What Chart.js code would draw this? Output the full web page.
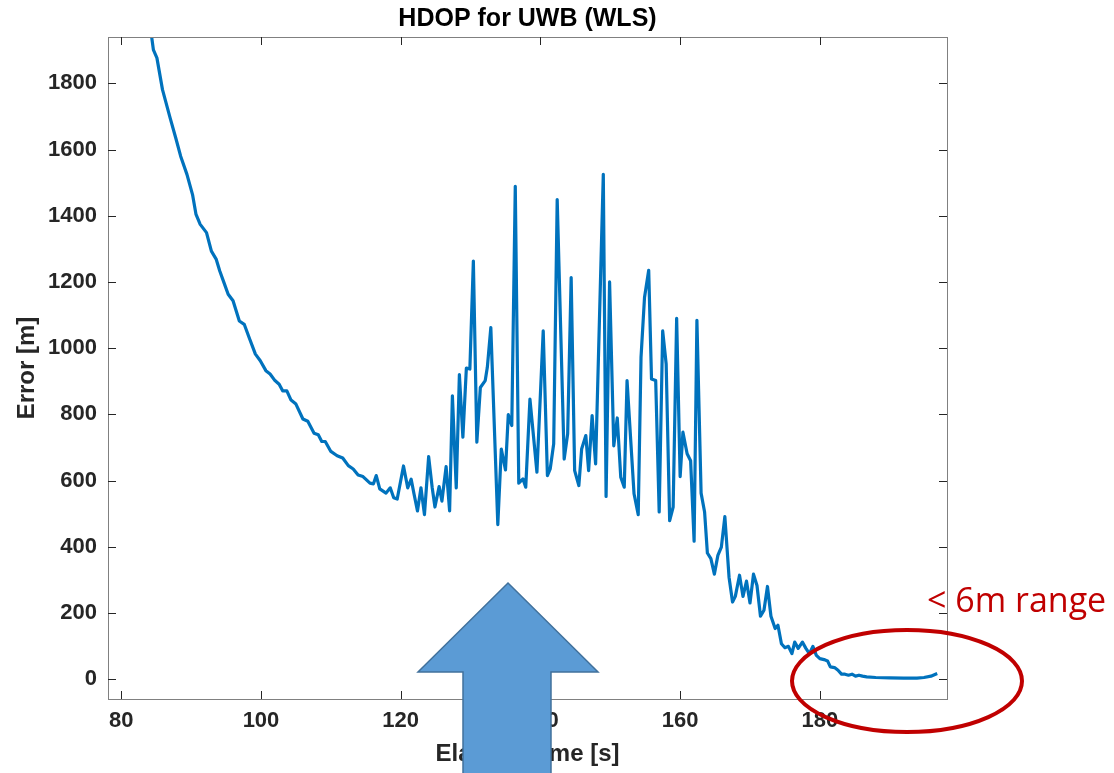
<!DOCTYPE html>
<html>
<head>
<meta charset="utf-8">
<title>HDOP for UWB (WLS)</title>
<script src="https://cdn.jsdelivr.net/npm/chart.js@4/dist/chart.umd.min.js"></script>
<style>
  html, body { margin: 0; padding: 0; background: #fff; }
  #wrap { width: 1114px; height: 773px; }
</style>
</head>
<body>
<div id="wrap"><canvas id="hdopChart" width="1114" height="773"></canvas></div>
<script>
// Valeurs (temps écoulé [s] / erreur [m])
const timeS = [
  83.9, 84.6, 85.1, 85.9, 87.0, 87.8, 88.5, 89.4, 90.2, 90.7,
  91.3, 92.2, 92.9, 93.6, 94.1, 94.7, 95.3, 96.0, 96.9, 97.6,
  98.3, 99.2, 99.9, 100.7, 101.3, 102.0, 102.6, 103.1, 103.7, 104.3,
  105.0, 106.0, 106.7, 107.6, 108.2, 108.7, 109.2, 110.0, 110.9, 111.7,
  112.5, 113.2, 113.9, 114.6, 115.6, 116.1, 116.5, 117.0, 117.9, 118.5,
  119.0, 119.5, 120.4, 121.0, 121.5, 121.9, 122.4, 122.9, 123.4, 124.0,
  124.5, 124.9, 125.5, 125.9, 126.5, 127.0, 127.4, 127.95, 128.4, 128.9,
  129.4, 129.9, 130.4, 130.9, 131.4, 132.1, 132.4, 132.9, 133.9, 134.4,
  135.0, 135.4, 135.9, 136.4, 136.9, 137.5, 137.9, 138.5, 139.5, 140.4,
  141.0, 141.4, 141.9, 142.4, 143.4, 143.9, 144.4, 144.9, 145.5, 145.9,
  146.5, 146.9, 147.4, 147.9, 149.0, 149.4, 149.9, 150.5, 151.0, 151.5,
  152.0, 152.4, 153.4, 154.0, 154.4, 154.9, 155.5, 155.9, 156.5, 157.0,
  157.5, 158.0, 158.5, 159.0, 159.5, 160.0, 160.4, 161.0, 161.5, 162.0,
  162.4, 163.0, 163.5, 163.9, 164.4, 164.9, 165.4, 165.9, 166.4, 167.0,
  167.5, 167.9, 168.5, 169.0, 169.5, 170.0, 170.5, 171.0, 171.5, 172.0,
  172.5, 173.0, 173.6, 174.0, 174.5, 175.0, 175.5, 176.0, 176.4, 176.9,
  177.5, 178.0, 178.5, 179.0, 179.5, 180.0, 180.6, 181.1, 181.5, 182.1,
  182.6, 183.1, 183.6, 184.1, 184.6, 185.1, 185.6, 186.1, 186.7, 188.0,
  190.0, 192.0, 193.9, 194.9, 195.9, 196.8
];
const errorM = [
  2010, 1901, 1877, 1781, 1695, 1635, 1580, 1525, 1464, 1404,
  1374, 1349, 1293, 1268, 1233, 1198, 1163, 1143, 1082, 1072,
  1032, 982, 962, 932, 922, 902, 891, 871, 871, 843,
  831, 786, 779, 743, 738, 718, 718, 688, 675, 668,
  645, 635, 617, 612, 592, 590, 615, 575, 562, 578,
  548, 544, 644, 578, 604, 560, 508, 578, 497, 672,
  580, 520, 582, 538, 642, 508, 856, 578, 920, 731,
  940, 937, 1263, 716, 881, 902, 942, 1062, 467, 695,
  632, 799, 766, 1489, 592, 605, 580, 846, 625, 1052,
  615, 635, 711, 1449, 665, 741, 1213, 630, 585, 695,
  736, 630, 796, 650, 1525, 552, 1200, 705, 789, 610,
  580, 902, 560, 497, 972, 1153, 1235, 907, 902, 505,
  1052, 952, 479, 520, 1090, 612, 746, 681, 660, 417,
  1084, 562, 505, 381, 364, 317, 374, 399, 491, 308,
  233, 250, 314, 250, 296, 230, 317, 283, 190, 208,
  280, 190, 153, 163, 107, 95, 99, 77, 112, 93,
  112, 93, 77, 99, 72, 62, 59, 55, 37, 35,
  27, 15, 15, 12, 15, 9, 12, 9, 7, 5,
  4, 3, 3, 5, 9, 17
];
const xTicks = [80, 100, 120, 140, 160, 180];
const yTicks = [0, 200, 400, 600, 800, 1000, 1200, 1400, 1600, 1800];

const lineColor = '#0072BD';
const axisGray = '#262626';
const fontFam = 'Liberation Sans, Arial, sans-serif';

// Cadre MATLAB + graduations vers l'intérieur, puis les annotations de la diapo
const boxAndNotes = {
  id: 'boxAndNotes',
  afterDraw(chart) {
    const { ctx, chartArea: a, scales: { x, y } } = chart;
    ctx.save();
    ctx.lineWidth = 1;
    ctx.strokeStyle = '#808080';
    ctx.strokeRect(a.left + 0.5, a.top + 0.5, a.right - a.left, a.bottom - a.top);

    ctx.strokeStyle = axisGray;
    ctx.beginPath();
    xTicks.forEach(v => {
      const px = Math.round(x.getPixelForValue(v)) + 0.5;
      ctx.moveTo(px, a.bottom); ctx.lineTo(px, a.bottom - 8);
      ctx.moveTo(px, a.top); ctx.lineTo(px, a.top + 8);
    });
    yTicks.forEach(v => {
      const py = Math.round(y.getPixelForValue(v)) + 0.5;
      ctx.moveTo(a.left, py); ctx.lineTo(a.left + 8, py);
      ctx.moveTo(a.right, py); ctx.lineTo(a.right - 8, py);
    });
    ctx.stroke();

    // flèche bleue
    ctx.beginPath();
    ctx.moveTo(508, 583);
    ctx.lineTo(598, 672);
    ctx.lineTo(551, 672);
    ctx.lineTo(551, 790);
    ctx.lineTo(463, 790);
    ctx.lineTo(463, 672);
    ctx.lineTo(418, 672);
    ctx.closePath();
    ctx.fillStyle = '#5B9BD5';
    ctx.fill();
    ctx.strokeStyle = '#41719C';
    ctx.lineWidth = 1.5;
    ctx.stroke();

    // ellipse rouge
    ctx.beginPath();
    ctx.ellipse(907, 681, 115, 51, 0, 0, Math.PI * 2);
    ctx.strokeStyle = '#C00000';
    ctx.lineWidth = 4;
    ctx.stroke();

    ctx.fillStyle = '#C00000';
    ctx.font = '34px "Open Sans", "Noto Sans", sans-serif';
    ctx.textAlign = 'left';
    ctx.textBaseline = 'alphabetic';
    ctx.fillText('< 6m range', 927, 612);
    ctx.restore();
  }
};

const points = timeS.map((t, i) => ({ x: t, y: errorM[i] }));

new Chart(document.getElementById('hdopChart'), {
  type: 'line',
  data: {
    datasets: [{
      data: points,
      borderColor: lineColor,
      borderWidth: 3.2,
      pointRadius: 0,
      tension: 0,
      borderJoinStyle: 'round',
      fill: false
    }]
  },
  options: {
    responsive: false,
    animation: false,
    layout: { padding: { left: 0, top: 0, right: 167, bottom: 0 } },
    plugins: {
      legend: { display: false },
      tooltip: { enabled: false },
      title: {
        display: true,
        fullSize: false,
        text: 'HDOP for UWB (WLS)',
        color: '#000',
        font: { family: fontFam, size: 25, weight: 'bold' },
        padding: { top: 4, bottom: 3 }
      }
    },
    scales: {
      x: {
        type: 'linear',
        min: 78.1,
        max: 198.2,
        afterBuildTicks: s => { s.ticks = xTicks.map(v => ({ value: v })); },
        afterFit: s => { s.height = 74; },
        grid: { display: false, drawTicks: false },
        border: { display: false },
        ticks: {
          color: axisGray,
          padding: 9,
          maxRotation: 0,
          callback: v => String(v),
          font: { family: fontFam, size: 22, weight: 'bold' }
        },
        title: {
          display: true,
          text: 'Elapsed time [s]',
          color: axisGray,
          padding: { top: 0, bottom: 4 },
          font: { family: fontFam, size: 24, weight: 'bold' }
        }
      },
      y: {
        min: -60,
        max: 1940,
        afterBuildTicks: s => { s.ticks = yTicks.map(v => ({ value: v })); },
        afterFit: s => { s.width = 108; },
        grid: { display: false, drawTicks: false },
        border: { display: false },
        ticks: {
          color: axisGray,
          padding: 11,
          callback: v => String(v),
          font: { family: fontFam, size: 22, weight: 'bold' }
        },
        title: {
          display: true,
          text: 'Error [m]',
          color: axisGray,
          padding: { top: 13, bottom: 0 },
          font: { family: fontFam, size: 24, weight: 'bold' }
        }
      }
    }
  },
  plugins: [boxAndNotes]
});
</script>
</body>
</html>
